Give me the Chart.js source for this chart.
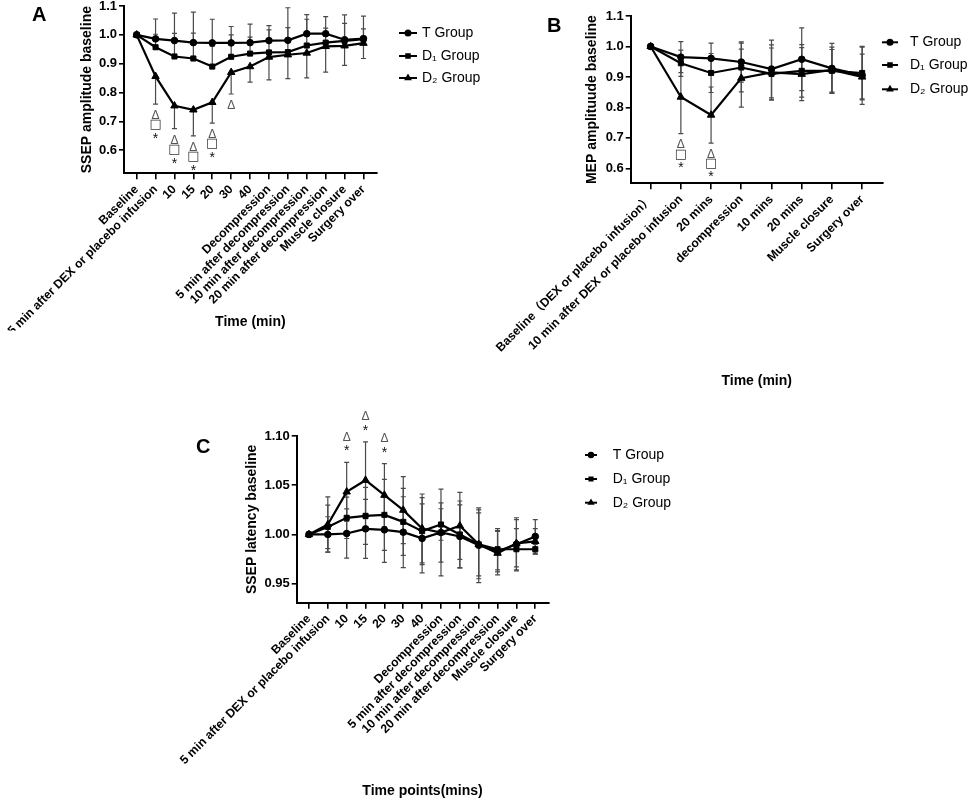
<!DOCTYPE html>
<html><head><meta charset="utf-8">
<script src="https://cdn.jsdelivr.net/npm/chart.js@4.4.0/dist/chart.umd.min.js"></script>
<style>
html,body{margin:0;padding:0;background:#fff;}
#wrap{position:relative;width:969px;height:800px;overflow:hidden;}
#wrap canvas{position:absolute;left:0;top:0;}
</style></head><body>
<div id="wrap">
<canvas id="cA" width="969" height="800"></canvas>
<canvas id="cB" width="969" height="800"></canvas>
<canvas id="cC" width="969" height="800"></canvas>
</div>
<script>
// ---------- data ----------
const xLabelsSsep = ['Baseline', '5 min after DEX or placebo infusion', '10', '15', '20', '30', '40',
  'Decompression', '5 min after decompression', '10 min after decompression', '20 min after decompression',
  'Muscle closure', 'Surgery over'];
const xLabelsMep = ['Baseline（DEX or placebo infusion）', '10 min after DEX or placebo infusion', '20 mins',
  'decompression', '10 mins', '20 mins', 'Muscle closure', 'Surgery over'];
const seriesNames = ['T Group', 'D₁ Group', 'D₂ Group'];
const yTicksAmp = [0.6, 0.7, 0.8, 0.9, 1.0, 1.1];
const yTicksLat = [0.95, 1.00, 1.05, 1.10];

// A: SSEP amplitude
const ssepAmpT  = [1.0, 0.986, 0.98, 0.973, 0.972, 0.972, 0.973, 0.98, 0.981, 1.004, 1.004, 0.983, 0.987];
const ssepAmpD1 = [1.0, 0.957, 0.925, 0.918, 0.89, 0.924, 0.935, 0.939, 0.94, 0.963, 0.973, 0.979, 0.985];
const ssepAmpD2 = [1.0, 0.856, 0.754, 0.74, 0.766, 0.87, 0.89, 0.923, 0.931, 0.937, 0.96, 0.962, 0.971];
const ssepAmpErrT  = [0, 0.069, 0.095, 0.106, 0.082, 0.057, 0.064, 0.052, 0.113, 0.066, 0.059, 0.086, 0.078];
const ssepAmpErrD1 = [0, 0.045, 0.08, 0.088, 0.07, 0.076, 0.057, 0.078, 0.085, 0.091, 0.05, 0.061, 0.036];
const ssepAmpErrD2 = [0, 0.096, 0.079, 0.09, 0.072, 0.075, 0.054, 0.079, 0.083, 0.086, 0.089, 0.068, 0.053];
const sigIdxSsepAmp = [1, 2, 3, 4, 5];
const sigMarksSsepAmp = [['Δ', '□', '*'], ['Δ', '□', '*'], ['Δ', '□', '*'], ['Δ', '□', '*'], ['Δ']];

// B: MEP amplitude
const mepAmpT  = [1.0, 0.965, 0.961, 0.949, 0.926, 0.958, 0.928, 0.905];
const mepAmpD1 = [1.0, 0.945, 0.913, 0.931, 0.91, 0.92, 0.92, 0.913];
const mepAmpD2 = [1.0, 0.834, 0.775, 0.896, 0.915, 0.909, 0.923, 0.9];
const mepAmpErrT  = [0, 0.051, 0.05, 0.066, 0.095, 0.103, 0.082, 0.095];
const mepAmpErrD1 = [0, 0.043, 0.064, 0.08, 0.085, 0.086, 0.07, 0.085];
const mepAmpErrD2 = [0, 0.12, 0.092, 0.095, 0.09, 0.087, 0.075, 0.075];
const sigIdxMep = [1, 2];
const sigMarksMep = [['Δ', '□', '*'], ['Δ', '□', '*']];

// C: SSEP latency
const latT  = [1.0, 1.0, 1.001, 1.0057, 1.0047, 1.0023, 0.996, 1.002, 0.998, 0.989, 0.983, 0.99, 0.998];
const latD1 = [1.0, 1.0077, 1.0169, 1.0189, 1.0199, 1.0128, 1.0034, 1.0101, 1.0, 0.99, 0.985, 0.985, 0.985];
const latD2 = [1.0, 1.0101, 1.0433, 1.0551, 1.0399, 1.0247, 1.0061, 1.002, 1.0088, 0.99, 0.981, 0.991, 0.993];
const latErrT  = [0, 0.018, 0.025, 0.030, 0.033, 0.036, 0.035, 0.044, 0.032, 0.038, 0.021, 0.027, 0.017];
const latErrD1 = [0, 0.022, 0.021, 0.029, 0.036, 0.034, 0.034, 0.016, 0.034, 0.032, 0.021, 0.021, 0.005];
const latErrD2 = [0, 0.028, 0.030, 0.039, 0.032, 0.034, 0.035, 0.030, 0.034, 0.035, 0.022, 0.024, 0.013];
const sigIdxLat = [2, 3, 4];
const sigMarksLat = [['Δ', '*'], ['Δ', '*'], ['Δ', '*']];

// ---------- styling / rendering ----------
const FONT = '"Liberation Sans", Arial, "Noto Sans CJK SC", sans-serif';
const W = 969, H = 800;
const pointStyles = ['circle', 'rect', 'triangle'];
const pointRadii = [3.3, 3.6, 4.3];

function drawSymbol(ctx, s, x, cy) {
  ctx.save();
  ctx.textAlign = 'center';
  if (s === 'Δ') {
    ctx.fillStyle = '#555';
    ctx.font = '12px ' + FONT;
    ctx.textBaseline = 'alphabetic';
    ctx.fillText(s, x, cy + 4.3);
  } else if (s === '□') {
    ctx.fillStyle = '#333';
    ctx.font = '13px "DejaVu Sans", ' + FONT;
    ctx.textBaseline = 'middle';
    ctx.fillText(s, x, cy);
  } else {
    ctx.fillStyle = '#111';
    ctx.font = '14px ' + FONT;
    ctx.textBaseline = 'alphabetic';
    ctx.fillText(s, x, cy + 8);
  }
  ctx.restore();
}

function makeChart(id, cfg) {
  const datasets = cfg.series.map((vals, k) => ({
    label: seriesNames[k],
    data: vals.map((v, i) => ({x: i, y: v})),
    borderColor: '#000', backgroundColor: '#000', borderWidth: 2.2,
    pointStyle: pointStyles[k], pointRadius: pointRadii[k], pointBorderWidth: 1,
    pointBackgroundColor: '#000', pointBorderColor: '#000', tension: 0, clip: false
  }));
  const zeroPad = s => { s.paddingLeft = 0; s.paddingRight = 0; s.paddingTop = 0; s.paddingBottom = 0; };
  const xTickFont = {family: FONT, size: 12.2, weight: 'bold'};
  const yTickFont = {family: FONT, size: 13, weight: 'bold'};
  const titleFont = {family: FONT, size: 14, weight: 'bold'};

  const extrasPlugin = {
    id: 'extras',
    beforeDatasetsDraw(chart) {
      const {ctx, scales: {x, y}} = chart;
      ctx.save();
      ctx.strokeStyle = '#4a4a4a';
      ctx.lineWidth = 1.2;
      chart.data.datasets.forEach((ds, di) => {
        const e = cfg.errors[di], d = cfg.errDir[di];
        ds.data.forEach((p, i) => {
          if (!e[i]) return;
          const px = x.getPixelForValue(p.x);
          const top = y.getPixelForValue(d >= 0 ? p.y + e[i] : p.y);
          const bot = y.getPixelForValue(d <= 0 ? p.y - e[i] : p.y);
          ctx.beginPath();
          ctx.moveTo(px, top); ctx.lineTo(px, bot);
          if (d >= 0) { ctx.moveTo(px - 2.5, top); ctx.lineTo(px + 2.5, top); }
          if (d <= 0) { ctx.moveTo(px - 2.5, bot); ctx.lineTo(px + 2.5, bot); }
          ctx.stroke();
        });
      });
      ctx.restore();
    },
    afterDraw(chart) {
      const {ctx, scales: {x, y}} = chart;
      // significance marks
      cfg.sigIdx.forEach((idx, n) => {
        const px = x.getPixelForValue(idx);
        let anchor;
        if (cfg.sigPos === 'below') {
          anchor = -Infinity;
          cfg.series.forEach((vals, k) => {
            const d = cfg.errDir[k];
            const lo = d <= 0 ? vals[idx] - cfg.errors[k][idx] : vals[idx];
            anchor = Math.max(anchor, y.getPixelForValue(lo));
          });
        } else {
          anchor = Infinity;
          cfg.series.forEach((vals, k) => {
            const d = cfg.errDir[k];
            const hi = d >= 0 ? vals[idx] + cfg.errors[k][idx] : vals[idx];
            anchor = Math.min(anchor, y.getPixelForValue(hi));
          });
        }
        cfg.sigMarks[n].forEach((s, j) => {
          drawSymbol(ctx, s, px, anchor + cfg.sigOffsets[j]);
        });
      });
      // legend
      ctx.save();
      const L = cfg.legend;
      cfg.series.forEach((vals, k) => {
        const ly = L.y[k];
        ctx.strokeStyle = '#000';
        ctx.lineWidth = 2;
        ctx.beginPath(); ctx.moveTo(L.x1, ly); ctx.lineTo(L.x2, ly); ctx.stroke();
        ctx.fillStyle = '#000';
        Chart.helpers.drawPoint(ctx, {pointStyle: pointStyles[k], radius: L.r, borderWidth: 1, rotation: 0},
          (L.x1 + L.x2) / 2, ly);
        ctx.fillStyle = '#000';
        ctx.font = '14px ' + FONT;
        ctx.textAlign = 'left';
        ctx.textBaseline = 'middle';
        ctx.fillText(seriesNames[k], L.tx, ly);
      });
      // panel letter
      ctx.font = 'bold 20px ' + FONT;
      ctx.textAlign = 'left';
      ctx.textBaseline = 'alphabetic';
      ctx.fillText(cfg.letter.t, cfg.letter.x, cfg.letter.y);
      ctx.restore();
    }
  };

  return new Chart(document.getElementById(id), {
    type: 'line',
    data: {datasets},
    options: {
      responsive: false, animation: false, events: [], devicePixelRatio: 1,
      layout: {padding: {left: 0, top: cfg.area.top, right: W - cfg.area.right, bottom: H - cfg.xBoxBottom}},
      plugins: {legend: {display: false}, tooltip: {enabled: false}, title: {display: false}},
      scales: {
        x: {
          type: 'linear', position: 'bottom', min: cfg.xMin, max: cfg.xMax,
          afterBuildTicks: s => { s.ticks = cfg.labels.map((_, i) => ({value: i})); },
          afterFit: s => { s.height = cfg.xBoxBottom - cfg.area.bottom; zeroPad(s); },
          ticks: {autoSkip: false, minRotation: 45, maxRotation: 45, padding: 3, color: '#000', font: xTickFont,
            callback: v => cfg.labels[v]},
          grid: {drawOnChartArea: false, drawTicks: true, tickLength: 6, color: '#000', lineWidth: 1.6},
          border: {display: true, color: '#000', width: 2},
          title: {display: true, text: cfg.xTitle, color: '#000', font: titleFont, padding: {top: 0, bottom: 0}}
        },
        y: {
          type: 'linear', position: 'left', min: cfg.yMin, max: cfg.yMax,
          afterBuildTicks: s => { s.ticks = cfg.yTicks.map(v => ({value: v})); },
          afterFit: s => { s.width = cfg.area.left; zeroPad(s); },
          ticks: {padding: 2, color: '#000', font: yTickFont, callback: v => v.toFixed(cfg.dec)},
          grid: {drawOnChartArea: false, drawTicks: true, tickLength: 5, color: '#000', lineWidth: 1.6},
          border: {display: true, color: '#000', width: 2},
          title: {display: true, text: cfg.yTitle, color: '#000', font: titleFont,
            padding: {top: cfg.yTitleX - 8.4, bottom: 0}}
        }
      }
    },
    plugins: [extrasPlugin]
  });
}

makeChart('cA', {
  labels: xLabelsSsep,
  series: [ssepAmpT, ssepAmpD1, ssepAmpD2],
  errors: [ssepAmpErrT, ssepAmpErrD1, ssepAmpErrD2],
  errDir: [1, 1, -1],
  sigIdx: sigIdxSsepAmp, sigMarks: sigMarksSsepAmp, sigPos: 'below', sigOffsets: [11, 21, 31],
  area: {left: 124, right: 376.7, top: 6, bottom: 173.3}, xBoxBottom: 330.4,
  xMin: -0.67, xMax: 12.7, yMin: 0.52, yMax: 1.1, yTicks: yTicksAmp, dec: 1,
  xTitle: 'Time (min)', yTitle: 'SSEP amplitude baseline', yTitleX: 87,
  legend: {x1: 399, x2: 417, tx: 422, y: [33, 56, 78], r: 2.5},
  letter: {t: 'A', x: 32, y: 21}
});

makeChart('cB', {
  labels: xLabelsMep,
  series: [mepAmpT, mepAmpD1, mepAmpD2],
  errors: [mepAmpErrT, mepAmpErrD1, mepAmpErrD2],
  errDir: [0, 0, 0],
  sigIdx: sigIdxMep, sigMarks: sigMarksMep, sigPos: 'below', sigOffsets: [10.5, 20.5, 30],
  area: {left: 630.7, right: 882.7, top: 16, bottom: 183.3}, xBoxBottom: 389.4,
  xMin: -0.66, xMax: 7.68, yMin: 0.551, yMax: 1.1, yTicks: yTicksAmp, dec: 1,
  xTitle: 'Time (min)', yTitle: 'MEP amplituude baseline', yTitleX: 591.7,
  legend: {x1: 882, x2: 898, tx: 910, y: [42.3, 65, 89.3], r: 2.5},
  letter: {t: 'B', x: 547, y: 32}
});

makeChart('cC', {
  labels: xLabelsSsep,
  series: [latT, latD1, latD2],
  errors: [latErrT, latErrD1, latErrD2],
  errDir: [0, 0, 0],
  sigIdx: sigIdxLat, sigMarks: sigMarksLat, sigPos: 'above', sigOffsets: [-26, -15],
  area: {left: 296.7, right: 548.3, top: 436, bottom: 602.7}, xBoxBottom: 799.4,
  xMin: -0.65, xMax: 12.69, yMin: 0.9307, yMax: 1.10, yTicks: yTicksLat, dec: 2,
  xTitle: 'Time points(mins)', yTitle: 'SSEP latency baseline', yTitleX: 251.7,
  legend: {x1: 585, x2: 597, tx: 612.7, y: [455, 479, 502.7], r: 2.2},
  letter: {t: 'C', x: 196, y: 453}
});
</script>
</body></html>
